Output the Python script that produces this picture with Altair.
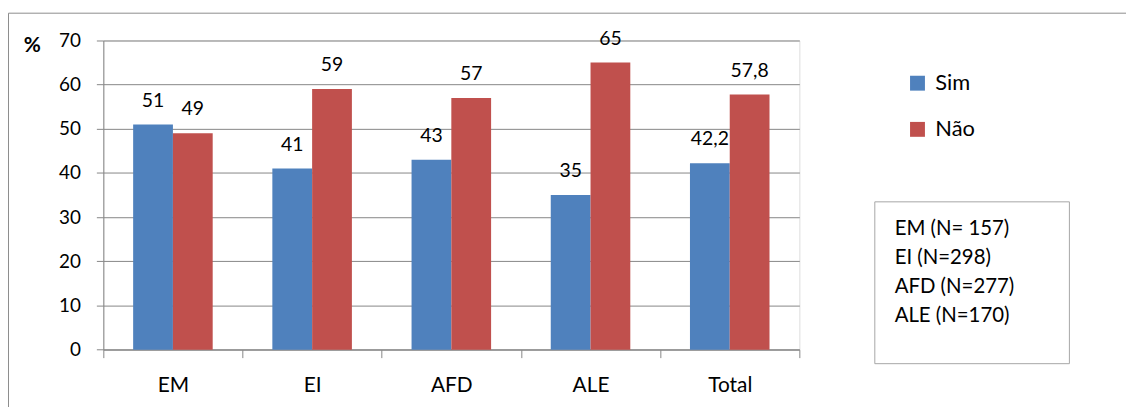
import altair as alt
import pandas as pd

categories = ["EM", "EI", "AFD", "ALE", "Total"]
sim_values = [51, 41, 43, 35, 42.2]
nao_values = [49, 59, 57, 65, 57.8]
series_names = ["Sim", "Não"]
series_colors = ["#4F81BD", "#C0504D"]
y_ticks = [0, 10, 20, 30, 40, 50, 60, 70]
note_lines = ["EM (N= 157)", "EI (N=298)", "AFD (N=277)", "ALE (N=170)"]

FONT = "Lato"


def fmt(v):
    return (f"{v:g}").replace(".", ",")


rows = []
for c, s, n in zip(categories, sim_values, nao_values):
    rows.append({"cat": c, "serie": "Sim", "val": s, "lab": fmt(s)})
    rows.append({"cat": c, "serie": "Não", "val": n, "lab": fmt(n)})
df = pd.DataFrame(rows)

W, H = 701, 311.4

x_enc = alt.X("cat:N", sort=categories,
              scale=alt.Scale(paddingInner=0, paddingOuter=0),
              axis=alt.Axis(title=None, labelFont=FONT, labelFontSize=21,
                            labelColor="black", labelAngle=0, labelPadding=17,
                            tickBand="extent", tickSize=8, tickColor="#868686",
                            domainColor="#868686", grid=False))
xoff = alt.XOffset("serie:N", scale=alt.Scale(domain=series_names,
                                              paddingInner=0, paddingOuter=0.75))
y_enc = alt.Y("val:Q", scale=alt.Scale(domain=[0, 70], nice=False),
              axis=alt.Axis(values=y_ticks, title="%", titleAngle=0,
                            titleX=-72, titleY=5.5, titleAlign="center",
                            titleBaseline="middle", titleFont=FONT,
                            titleFontSize=21, titleFontWeight="bold",
                            labelFont=FONT, labelFontSize=19,
                            labelColor="black", labelPadding=16,
                            tickSize=7, tickColor="#868686",
                            domainColor="#868686", grid=True,
                            gridColor="#868686"))

base = alt.Chart(df)

bars = base.mark_bar().encode(
    x=x_enc, xOffset=xoff, y=y_enc,
    color=alt.Color("serie:N",
                    scale=alt.Scale(domain=series_names, range=series_colors),
                    legend=alt.Legend(orient="none", legendX=809, legendY=32,
                                      title=None, symbolType="square",
                                      symbolSize=225, symbolStrokeWidth=0,
                                      labelFont=FONT, labelFontSize=22,
                                      labelColor="black", rowPadding=24.5,
                                      labelOffset=7, padding=0)),
)

labels = base.mark_text(font=FONT, fontSize=19.5, color="black",
                        baseline="alphabetic", dy=-18).encode(
    x=alt.X("cat:N", sort=categories), xOffset=xoff,
    y=alt.Y("val:Q"), text="lab:N")

one = pd.DataFrame({"k": [0]})

frame = alt.Chart(one).mark_rect(filled=False, stroke="#8C8C8C",
                                 strokeWidth=1).encode(
    x=alt.value(-95.5), x2=alt.value(1500),
    y=alt.value(-27.5), y2=alt.value(900))

box = alt.Chart(one).mark_rect(filled=False, stroke="#A6A6A6",
                               strokeWidth=1).encode(
    x=alt.value(777), x2=alt.value(973),
    y=alt.value(162.5), y2=alt.value(325.5))

note = alt.Chart(one).mark_text(text=note_lines, font=FONT, fontSize=20.5,
                                color="black", align="left",
                                baseline="alphabetic", lineHeight=29.2).encode(
    x=alt.value(797), y=alt.value(195.7))

chart = alt.layer(frame, bars, labels, box, note).properties(
    width=W, height=H,
    autosize=alt.AutoSizeParams(type="none"),
    padding={"left": 96, "top": 31.3, "right": 329, "bottom": 56.3},
).configure_view(stroke=None).configure(background="white")

chart.save("out.html", embed_options={"renderer": "svg", "actions": False})
